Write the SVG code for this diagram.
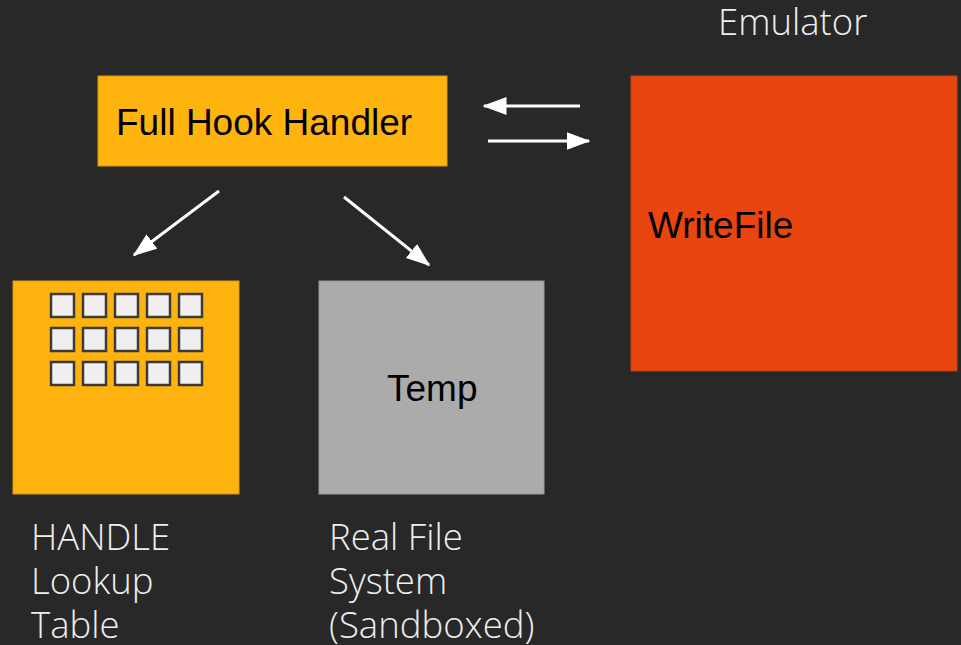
<svg xmlns="http://www.w3.org/2000/svg" width="961" height="645" viewBox="0 0 961 645">
<style>
.lbl{font-family:"Open Sans",sans-serif;font-weight:300;font-size:36.5px;fill:#eeeeee}
.in{font-family:"Liberation Sans",Arial,sans-serif;font-size:37px;fill:#000}
.cell{fill:#efefef;stroke:#3a3a3a;stroke-width:2.5}
.conn{stroke:#fff;stroke-width:3;fill:none}
</style>
<defs>
<marker id="ah" markerWidth="8" markerHeight="6" refX="7.5" refY="3" orient="auto" markerUnits="strokeWidth">
<path d="M0,0 L8,3 L0,6 Z" fill="#fff"/>
</marker>
</defs>
<rect width="961" height="645" fill="#282828"/>
<text class="lbl" x="718" y="35">Emulator</text>
<g id="handler">
<rect x="98" y="76" width="349" height="90" fill="#ffb30f" stroke="#d89a10" stroke-width="1"/>
<text class="in" x="116" y="135">Full Hook Handler</text>
</g>
<g id="emulator">
<rect x="631" y="76" width="326" height="295" fill="#e8450f" stroke="#c93a0c" stroke-width="1"/>
<text class="in" x="648" y="238">WriteFile</text>
</g>
<g id="lookup">
<rect x="13" y="281" width="226" height="213" fill="#ffb30f" stroke="#d89a10" stroke-width="1"/>
<g>
<rect class="cell" x="51" y="294" width="23" height="23"/><rect class="cell" x="83" y="294" width="23" height="23"/><rect class="cell" x="115" y="294" width="23" height="23"/><rect class="cell" x="147" y="294" width="23" height="23"/><rect class="cell" x="179" y="294" width="23" height="23"/>
<rect class="cell" x="51" y="328" width="23" height="23"/><rect class="cell" x="83" y="328" width="23" height="23"/><rect class="cell" x="115" y="328" width="23" height="23"/><rect class="cell" x="147" y="328" width="23" height="23"/><rect class="cell" x="179" y="328" width="23" height="23"/>
<rect class="cell" x="51" y="362" width="23" height="23"/><rect class="cell" x="83" y="362" width="23" height="23"/><rect class="cell" x="115" y="362" width="23" height="23"/><rect class="cell" x="147" y="362" width="23" height="23"/><rect class="cell" x="179" y="362" width="23" height="23"/>
</g>
<text class="lbl" x="31" y="550">HANDLE</text>
<text class="lbl" x="31" y="594">Lookup</text>
<text class="lbl" x="31" y="638">Table</text>
</g>
<g id="fs">
<rect x="319" y="281" width="225" height="213" fill="#ababab" stroke="#999" stroke-width="1"/>
<text class="in" x="387" y="401">Temp</text>
<text class="lbl" x="329" y="550">Real File</text>
<text class="lbl" x="329" y="594">System</text>
<text class="lbl" x="329" y="638">(Sandboxed)</text>
</g>
<g id="connectors">
<line class="conn" x1="580" y1="106" x2="484" y2="106" marker-end="url(#ah)"/>
<line class="conn" x1="488" y1="141" x2="589" y2="141" marker-end="url(#ah)"/>
<line class="conn" x1="219" y1="191" x2="134" y2="255" marker-end="url(#ah)"/>
<line class="conn" x1="344" y1="197" x2="429" y2="265" marker-end="url(#ah)"/>
</g>
</svg>
